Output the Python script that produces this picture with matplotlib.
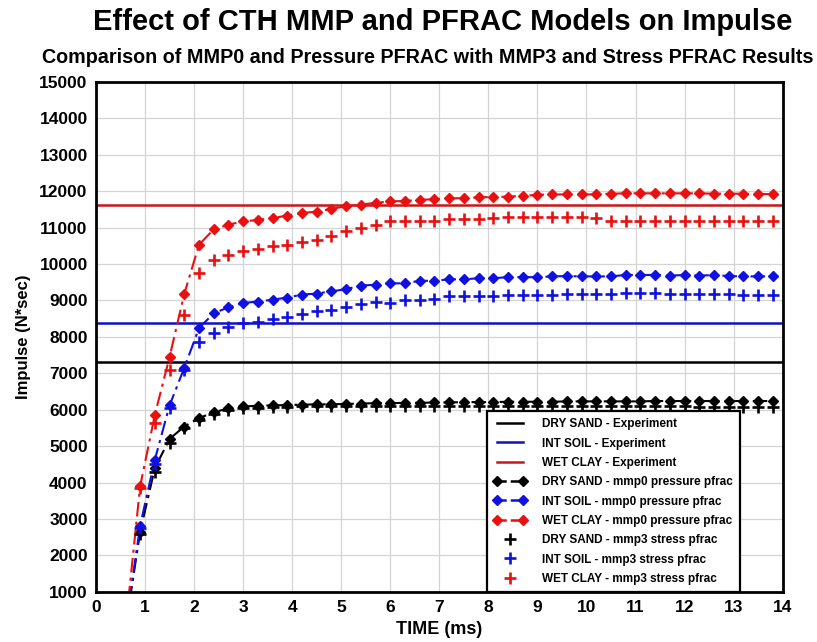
import matplotlib
matplotlib.use("Agg")
import matplotlib.pyplot as plt
from matplotlib.lines import Line2D
from matplotlib.legend_handler import HandlerLine2D

plt.rcParams['font.family'] = ['Liberation Sans', 'DejaVu Sans']
plt.rcParams['font.weight'] = 'bold'

# sample times (ms)
t = [0.6, 0.9, 1.2, 1.5, 1.8, 2.1, 2.4, 2.7, 3.0, 3.3, 3.6, 3.9, 4.2, 4.5, 4.8,
     5.1, 5.4, 5.7, 6.0, 6.3, 6.6, 6.9, 7.2, 7.5, 7.8, 8.1, 8.4, 8.7, 9.0, 9.3,
     9.6, 9.9, 10.2, 10.5, 10.8, 11.1, 11.4, 11.7, 12.0, 12.3, 12.6, 12.9, 13.2,
     13.5, 13.8]

# experimental impulse (N*sec)
exp_dry = 7300
exp_int = 8380
exp_wet = 11620

# mmp0 / pressure pfrac
dry_mmp0 = [0, 2650, 4400, 5200, 5540, 5770, 5930, 6040, 6090, 6110, 6120, 6130,
            6140, 6150, 6150, 6160, 6170, 6180, 6180, 6190, 6190, 6200, 6200, 6210,
            6210, 6210, 6220, 6220, 6220, 6220, 6230, 6230, 6230, 6230, 6230, 6230,
            6240, 6240, 6240, 6240, 6240, 6240, 6240, 6240, 6240]
int_mmp0 = [0, 2820, 4630, 6120, 7150, 8240, 8650, 8810, 8930, 8970, 9020, 9080,
            9160, 9190, 9250, 9310, 9410, 9430, 9470, 9470, 9540, 9540, 9580, 9580,
            9610, 9610, 9640, 9640, 9640, 9660, 9670, 9660, 9660, 9660, 9700, 9700,
            9700, 9680, 9700, 9680, 9700, 9670, 9660, 9660, 9660]
wet_mmp0 = [0, 3900, 5860, 7450, 9180, 10530, 10950, 11080, 11170, 11210, 11260,
            11330, 11400, 11440, 11510, 11590, 11630, 11680, 11720, 11730, 11760,
            11780, 11800, 11810, 11830, 11840, 11850, 11870, 11900, 11910, 11910,
            11910, 11910, 11930, 11940, 11940, 11940, 11940, 11940, 11940, 11930,
            11930, 11930, 11920, 11920]

# mmp3 / stress pfrac
dry_mmp3 = [0, 2600, 4300, 5100, 5500, 5720, 5880, 6000, 6040, 6060, 6070, 6080,
            6090, 6090, 6090, 6100, 6100, 6100, 6100, 6100, 6100, 6100, 6100, 6100,
            6100, 6100, 6100, 6100, 6100, 6100, 6100, 6100, 6100, 6100, 6090, 6090,
            6090, 6090, 6090, 6080, 6080, 6080, 6080, 6080, 6080]
int_mmp3 = [0, 2750, 4500, 6050, 7100, 7850, 8120, 8260, 8390, 8410, 8490, 8550,
            8640, 8700, 8750, 8820, 8910, 8950, 8940, 9000, 9000, 9030, 9110, 9110,
            9120, 9120, 9150, 9150, 9150, 9150, 9180, 9180, 9180, 9180, 9200, 9200,
            9200, 9180, 9180, 9180, 9180, 9180, 9150, 9150, 9150]
wet_mmp3 = [0, 3850, 5630, 7100, 8610, 9760, 10120, 10260, 10350, 10420, 10490,
            10530, 10600, 10670, 10780, 10920, 10990, 11080, 11170, 11170, 11180,
            11180, 11230, 11230, 11230, 11260, 11290, 11290, 11290, 11290, 11290,
            11290, 11260, 11180, 11180, 11180, 11180, 11180, 11180, 11180, 11180,
            11180, 11170, 11170, 11170]

black = 'black'
blue = '#1010e0'
red = '#e81010'
dashdot = (0, (7, 2.5, 1.5, 2.5))

fig = plt.figure(figsize=(8.17, 6.42), dpi=100)
ax = fig.add_axes([0.1175, 0.078, 0.8405, 0.7945])

ax.axhline(exp_dry, color=black, lw=1.8)
ax.axhline(exp_int, color='#1010c0', lw=1.8)
ax.axhline(exp_wet, color='#c81818', lw=1.8)

ax.plot(t, dry_mmp0, color=black, ls=dashdot, lw=1.5, marker='D', ms=5.5)
ax.plot(t, int_mmp0, color=blue, ls=dashdot, lw=1.5, marker='D', ms=5.5)
ax.plot(t, wet_mmp0, color=red, ls=dashdot, lw=1.5, marker='D', ms=5.5)

ax.plot(t, dry_mmp3, color=black, ls='none', marker='+', ms=8.5, mew=1.9)
ax.plot(t, int_mmp3, color=blue, ls='none', marker='+', ms=8.5, mew=1.9)
ax.plot(t, wet_mmp3, color=red, ls='none', marker='+', ms=8.5, mew=1.9)

ax.set_xlim(0, 14)
ax.set_ylim(1000, 15000)
ax.set_xticks(range(0, 15))
ax.set_yticks(range(1000, 15001, 1000))
ax.grid(True, color='#d4d4d4', lw=0.9)
ax.set_axisbelow(True)
ax.tick_params(length=0, labelsize=12.5, pad=6)
for s in ax.spines.values():
    s.set_linewidth(2)

ax.set_xlabel('TIME (ms)', fontsize=13, fontweight='bold', labelpad=4)
ax.set_ylabel('Impulse (N*sec)', fontsize=12, fontweight='bold', labelpad=6)

fig.text(0.542, 0.966, 'Effect of CTH MMP and PFRAC Models on Impulse',
         ha='center', va='center', fontsize=21, fontweight='bold')
fig.text(0.523, 0.911, 'Comparison of MMP0 and Pressure PFRAC with MMP3 and Stress PFRAC Results',
         ha='center', va='center', fontsize=14.2, fontweight='bold')

handles = [
    Line2D([], [], color=black, lw=1.8),
    Line2D([], [], color='#1010c0', lw=1.8),
    Line2D([], [], color='#c81818', lw=1.8),
    Line2D([], [], color=black, ls='--', lw=1.8, marker='D', ms=5.5),
    Line2D([], [], color=blue, ls='--', lw=1.8, marker='D', ms=5.5),
    Line2D([], [], color=red, ls='--', lw=1.8, marker='D', ms=5.5),
    Line2D([], [], color=black, ls='none', marker='+', ms=8.5, mew=1.9),
    Line2D([], [], color=blue, ls='none', marker='+', ms=8.5, mew=1.9),
    Line2D([], [], color=red, ls='none', marker='+', ms=8.5, mew=1.9),
]
labels = [
    'DRY SAND - Experiment',
    'INT SOIL - Experiment',
    'WET CLAY - Experiment',
    'DRY SAND - mmp0 pressure pfrac',
    'INT SOIL - mmp0 pressure pfrac',
    'WET CLAY - mmp0 pressure pfrac',
    'DRY SAND - mmp3 stress pfrac',
    'INT SOIL - mmp3 stress pfrac',
    'WET CLAY - mmp3 stress pfrac',
]
hmap = {h: HandlerLine2D(numpoints=1) for h in handles[6:]}
leg = ax.legend(handles, labels, loc='lower left', bbox_to_anchor=(0.569, 0.0),
                borderaxespad=0, fancybox=False, framealpha=1, edgecolor='black',
                prop={'size': 8.5, 'weight': 'bold'}, handlelength=2.8,
                handletextpad=1.3, labelspacing=0.62, borderpad=0.6,
                numpoints=2, handler_map=hmap)
leg.get_frame().set_linewidth(1.6)

fig.savefig('out.png', dpi=100)
